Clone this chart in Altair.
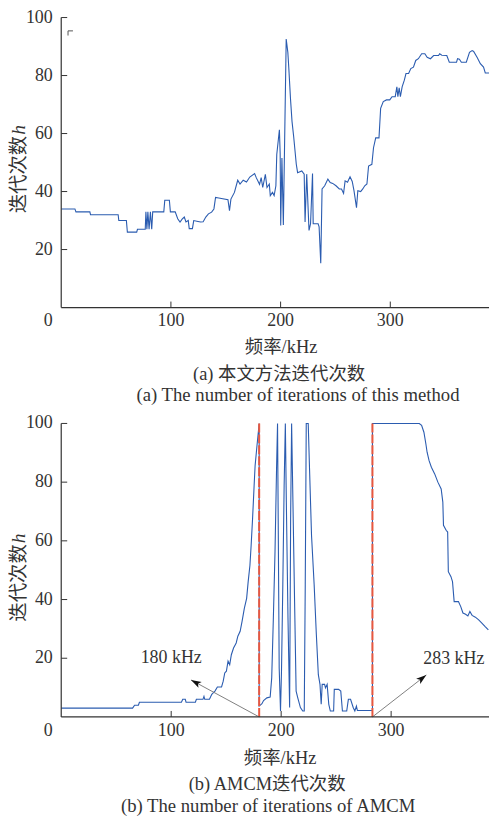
import math
import altair as alt
import pandas as pd

# ---------------- data ----------------
a_freq = [0, 12.5, 13.4, 26.1, 26.7, 51.9, 52.5, 59.4, 60.3, 68.8, 69.5, 76.6, 77.2, 78.1, 79.0, 80.1,
          81.3, 82.5, 83.4, 93.5, 94.4, 98.6, 99.5, 103.9, 106.2, 108.3, 110.4, 112.2, 113.7, 115.8,
          116.7, 119.6, 120.8, 124.7, 127.1, 129.4, 131.8, 134.2, 137.1, 139.2, 140.7, 143.6, 152.0,
          153.4, 154.7, 157.9, 160.9, 163.0, 165.9, 168.9, 171.9, 176.3, 177.8, 180.8, 182.3, 183.7,
          186.1, 187.6, 189.7, 190.6, 192.6, 194.1, 195.7, 196.5, 198.9, 199.6, 200.1, 201.2, 202.5,
          205.1, 206.6, 207.5, 209.0, 210.4, 211.9, 214.3, 215.5, 219.3, 221.5, 222.3, 223.8, 225.9,
          227.3, 229.1, 229.7, 234.2, 235.1, 236.6, 237.8, 240.2, 243.1, 245.2, 247.5, 250.5, 253.5,
          255.5, 257.4, 258.8, 261.0, 263.3, 265.3, 266.9, 269.2, 270.4, 273.0, 274.9, 276.7, 278.7,
          280.2, 283.2, 284.7, 286.7, 289.7, 291.2, 293.6, 296.5, 299.5, 301.6, 304.5, 306.0, 306.9,
          308.1, 309.2, 310.8, 312.8, 314.3, 316.7, 318.7, 321.1, 323.2, 325.6, 328.6, 331.5, 333.6,
          336.6, 339.5, 344.0, 345.0, 347.0, 351.5, 353.8, 360.4, 361.3, 363.0, 364.8, 369.3, 372.2,
          374.6, 376.0, 379.1, 382.1, 385.0, 386.6, 390.0]
a_iter = [34, 34, 33, 33, 32, 32, 30, 30, 26, 26, 27, 27, 33, 27, 33, 27,
          33, 27, 33, 33, 37, 37, 33, 33, 30.6, 29.5, 30.6, 31.2, 29.5, 30,
          27.2, 27.2, 30, 29.7, 29.5, 29.6, 31.2, 32.3, 32.9, 34, 38, 37.8, 37.2,
          33.4, 37.4, 39.7, 43.9, 42.6, 43.9, 43.3, 45, 46.2, 44.8, 42.5, 44.8, 41.4,
          45.9, 41.4, 42.6, 38.6, 39.7, 38.6, 42, 52.8, 61.3, 53, 28.3, 51.6, 28.5,
          92.6, 88, 82.4, 72.1, 64.2, 59, 49.4, 46.5, 47.1, 46, 29.5, 46, 26.6,
          28.9, 46.2, 28.9, 28.9, 27.8, 15.3, 40.9, 42, 44.3, 43.1, 42.8, 42, 40.9,
          40.9, 39.4, 43.7, 43.2, 45.1, 43.5, 40.3, 34.4, 40.3, 40, 40.9, 42, 42.6,
          48.8, 49.4, 55.1, 58.5, 58.5, 68.7, 71, 71.6, 71.6, 72.7, 72.7, 76.1, 72.7,
          75.8, 72.7, 76.1, 78.4, 80.7, 80.7, 82.4, 82.9, 85.2, 85.8, 87.5, 87.5, 86.3,
          85.8, 86.9, 86.9, 87.5, 87, 86.9, 84.6, 84.6, 85.8, 85.6, 84.6, 84.6, 88,
          88.6, 88.3, 86.3, 84.1, 82.9, 80.9, 80.9]

b_freq = [0, 64.9, 66.7, 70.2, 71.1, 109.3, 110.5, 112.8, 113.5, 122.0, 122.9, 128.9, 129.8, 130.5,
          134.8, 136.9, 139.8, 142.0, 145.8, 147.3, 148.7, 150.2, 151.7, 153.2, 154.7, 156.7, 159.1,
          160.6, 162.7, 164.4, 166.5, 168.6, 170.0, 171.6, 172.7, 174.0, 175.4, 176.3, 178.0, 180.0,
          180.0, 182.5, 184.0, 187.0, 190.0, 191.4, 192.9, 194.4, 195.8, 196.7, 197.3, 198.2, 199.4,
          200.3, 201.5, 202.7, 203.8, 204.7, 206.2, 207.7, 208.6, 209.5, 210.7, 212.2, 213.6, 215.1,
          217.5, 219.6, 221.0, 221.9, 222.8, 224.6, 225.8, 227.6, 230.0, 232.0, 233.8, 235.3, 236.4,
          237.3, 239.5, 240.3, 241.8, 243.3, 244.7, 247.7, 248.3, 252.2, 254.2, 255.7, 259.6, 261.1,
          263.1, 265.5, 267.0, 268.4, 269.3, 283.0, 283.0, 325.6, 327.7, 329.8, 331.6, 332.7, 334.5,
          336.6, 339.6, 342.5, 345.5, 347.0, 347.6, 350.0, 351.4, 352.0, 354.4, 355.8, 357.3, 361.2,
          363.3, 365.3, 367.7, 369.8, 371.6, 373.6, 376.6, 379.6, 382.5, 385.5, 388.4]
b_iter = [3, 3, 4, 4, 5, 5, 6, 6, 5, 5, 6, 6, 7, 6,
          6, 7.7, 8.8, 10.2, 10.2, 12.2, 15, 15.6, 19, 17.8, 21.2, 23.5, 25.2,
          27.5, 29.2, 32.5, 37, 40.4, 46.1, 51.7, 58.5, 67.6, 78.8, 85.6, 92.4, 100,
          3.7, 4.5, 5.6, 6.5, 6.8, 13.3, 33.7, 56.3, 84.5, 100, 67.6, 16.7, 2,
          15.6, 45, 78.8, 100, 73.2, 33.7, 3.2, 67.6, 100, 73.2, 39.3, 8.8, 6.5,
          3.2, 2, 2, 45, 100, 100, 84.5, 61.9, 45, 28, 14.4, 11.1, 4.3,
          11.1, 11.1, 9.9, 11.1, 4.3, 2, 2, 9.4, 9.4, 8.8, 2, 2, 6,
          6, 3.2, 2, 3.7, 2.2, 2.2, 100, 100, 99.4, 97, 93, 90.2, 87.3,
          85.1, 82.8, 80, 77.7, 73.2, 65.3, 63.6, 63, 49.5, 47.8, 46.1, 39.3, 39.3,
          37.6, 35.4, 35, 34.4, 35.9, 34.6, 34, 33.1, 32, 30.8, 29.7]

x_tick_values = [100, 200, 300]
y_tick_values = [20, 40, 60, 80, 100]
y_range = [0, 100]

b_marker_freq = [180, 283]
b_arrow_head_freq = [118, 332]
b_arrow_head_iter = [12.6, 14.3]
b_label_text = ["180 kHz", "283 kHz"]
b_label_freq = [100, 357]
b_label_iter = [18.4, 18.0]

a_corner_freq = [6.2, 6.2, 10.7]
a_corner_iter = [93.8, 95.4, 95.4]

y_title = "迭代次数"
y_title_var = "h"
x_title = "频率/kHz"
a_caption_cn = "(a) 本文方法迭代次数"
a_caption_en = "(a) The number of iterations of this method"
b_caption_cn = "(b) AMCM迭代次数"
b_caption_en = "(b) The number of iterations of AMCM"

# ---------------- style ----------------
FONT = "Liberation Serif, Noto Sans CJK SC, serif"
AX = "#333333"
BLUE = "#2b5cb0"
RED = "#e8583f"
FS = 18
W = 430
A_XMAX, A_H = 390, 291.5
B_XMAX, B_H = 389, 295
ARROW_PATH = "M0,0L0.55,1.7L0,1.3L-0.55,1.7Z"


def text_layer(txt, px, py, size=FS, **kw):
    return alt.Chart(pd.DataFrame({"s": [txt]})).mark_text(
        font=FONT, fontSize=size, color=AX, **kw
    ).encode(x=alt.value(px), y=alt.value(py), text="s:N")


def panel(freq, it, xmax, h, title_bottom, captions):
    xs = alt.Scale(domain=[0, xmax], nice=False, zero=False)
    ys = alt.Scale(domain=y_range, nice=False, zero=False)
    X = lambda f: alt.X(f, scale=xs, axis=None)
    Y = lambda f: alt.Y(f, scale=ys, axis=None)
    df = pd.DataFrame({"f": freq, "n": it, "i": list(range(len(freq)))})
    line = alt.Chart(df).mark_line(color=BLUE, strokeWidth=1.1).encode(
        x=X("f:Q"), y=Y("n:Q"), order="i:Q")

    dom = pd.DataFrame({"x0": [0], "x1": [xmax], "y0": [y_range[0]], "y1": [y_range[1]]})
    dom_x = alt.Chart(dom).mark_rule(color=AX, strokeWidth=1.2).encode(
        x=X("x0:Q"), x2="x1:Q", y=Y("y0:Q"))
    dom_y = alt.Chart(dom).mark_rule(color=AX, strokeWidth=1.2).encode(
        x=X("x0:Q"), y=Y("y0:Q"), y2="y1:Q")

    xt_df = pd.DataFrame({"t": x_tick_values, "b": [y_range[0]] * len(x_tick_values),
                          "s": [str(v) for v in x_tick_values]})
    yt_df = pd.DataFrame({"t": y_tick_values, "b": [0] * len(y_tick_values),
                          "s": [str(v) for v in y_tick_values]})
    xt = alt.Chart(xt_df).mark_rule(color=AX, strokeWidth=1).encode(
        x=X("t:Q"), y=alt.value(h), y2=alt.value(h - 6))
    yt = alt.Chart(yt_df).mark_rule(color=AX, strokeWidth=1).encode(
        y=Y("t:Q"), x=alt.value(0), x2=alt.value(6))
    xl = alt.Chart(xt_df).mark_text(font=FONT, fontSize=FS, color=AX, align="center",
                                    baseline="middle", dy=14).encode(
        x=X("t:Q"), y=Y("b:Q"), text="s:N")
    yl = alt.Chart(yt_df).mark_text(font=FONT, fontSize=FS, color=AX, align="right",
                                    baseline="middle", dx=-8.5).encode(
        x=X("b:Q"), y=Y("t:Q"), text="s:N")
    zero = alt.Chart(pd.DataFrame({"f": [0], "n": [0], "s": ["0"]})).mark_text(
        font=FONT, fontSize=FS, color=AX, dx=-13, dy=14, baseline="middle"
    ).encode(x=X("f:Q"), y=Y("n:Q"), text="s:N")

    ttl_cn = text_layer(y_title, -42, title_bottom, size=19.5, angle=270, align="left",
                        baseline="middle")
    ttl_h = text_layer(y_title_var, -42, title_bottom - 4 * 19.5 - 1, size=19.5, angle=270,
                       align="left", baseline="middle", fontStyle="italic")
    layers = [line, dom_x, dom_y, xt, yt, xl, yl, zero, ttl_cn, ttl_h]
    for txt, px, py, sz in captions:
        layers.append(text_layer(txt, px, py, size=sz, align="center", baseline="alphabetic"))
    return layers, xs, ys


# top panel
a_layers, a_xs, a_ys = panel(a_freq, a_iter, A_XMAX, A_H, 196.8, [
    (x_title, 221, 337, 18.5),
    (a_caption_cn, 219, 364, 18.5),
    (a_caption_en, 238, 385.5, 18.8),
])
corner = alt.Chart(pd.DataFrame({"f": a_corner_freq, "n": a_corner_iter,
                                 "i": list(range(len(a_corner_freq)))})).mark_line(
    color="#555555", strokeWidth=1).encode(
    x=alt.X("f:Q", scale=a_xs, axis=None), y=alt.Y("n:Q", scale=a_ys, axis=None), order="i:Q")
top = alt.layer(*a_layers, corner).properties(width=W, height=A_H)

# bottom panel
b_layers, b_xs, b_ys = panel(b_freq, b_iter, B_XMAX, B_H, 199.3, [
    (x_title, 220, 342, 18.5),
    (b_caption_cn, 207, 368, 18.5),
    (b_caption_en, 208, 391, 18.8),
])
px_x = W / B_XMAX
px_y = B_H / 100.0
angles = []
for tf, hf, hn in zip(b_marker_freq, b_arrow_head_freq, b_arrow_head_iter):
    dx = (hf - tf) * px_x
    dy = -hn * px_y
    angles.append(math.degrees(math.atan2(dx, -dy)) % 360)

mk = pd.DataFrame({"f": b_marker_freq, "lo": [y_range[0]] * 2, "hi": [y_range[1]] * 2,
                   "hf": b_arrow_head_freq, "hn": b_arrow_head_iter,
                   "ang": angles, "lf": b_label_freq, "ln": b_label_iter, "s": b_label_text})
red = alt.Chart(mk).mark_rule(color=RED, strokeWidth=2, strokeDash=[9, 2]).encode(
    x=alt.X("f:Q", scale=b_xs, axis=None), y=alt.Y("lo:Q", scale=b_ys, axis=None), y2="hi:Q")
arrow_line = alt.Chart(mk).mark_rule(color="#808080", strokeWidth=1).encode(
    x=alt.X("f:Q", scale=b_xs, axis=None), y=alt.Y("lo:Q", scale=b_ys, axis=None),
    x2="hf:Q", y2="hn:Q")
arrow_head = alt.Chart(mk).mark_point(shape=ARROW_PATH, filled=True, color="#111111", size=150,
                                      opacity=1).encode(
    x=alt.X("hf:Q", scale=b_xs, axis=None), y=alt.Y("hn:Q", scale=b_ys, axis=None),
    angle=alt.Angle("ang:Q", scale=None))
labels = alt.Chart(mk).mark_text(font=FONT, fontSize=FS, color=AX, align="center",
                                 baseline="alphabetic").encode(
    x=alt.X("lf:Q", scale=b_xs, axis=None), y=alt.Y("ln:Q", scale=b_ys, axis=None), text="s:N")
bottom = alt.layer(b_layers[0], red, arrow_line, arrow_head, labels, *b_layers[1:]).properties(
    width=W, height=B_H)

chart = alt.vconcat(top, bottom, spacing=116, bounds="flush").properties(
    padding={"left": 1.5, "top": -1.5, "right": 0, "bottom": 0}
).configure_view(strokeWidth=0)

chart.save("out.html", embed_options={"renderer": "svg", "actions": False})
